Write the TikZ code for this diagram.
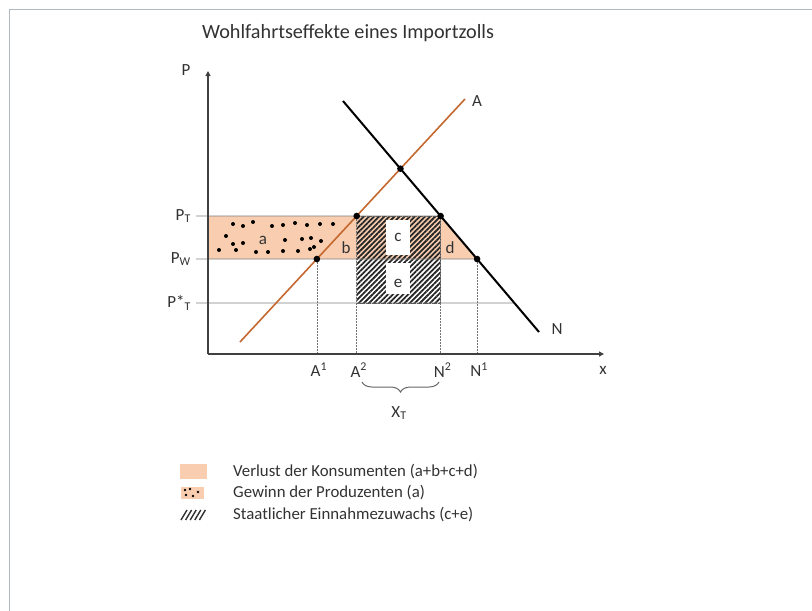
\documentclass[tikz,border=0pt]{standalone}
\usepackage{fontspec}
\setmainfont{Carlito}
\usetikzlibrary{patterns.meta,decorations.pathreplacing,arrows.meta,calc}
\definecolor{peach}{RGB}{248,205,176}
\definecolor{supplyc}{RGB}{196,104,48}
\definecolor{framec}{RGB}{176,184,192}
\definecolor{txt}{RGB}{50,50,50}
\tikzset{
  axisline/.style={draw=black!75,line width=1.3pt},
  priceline/.style={draw=black!50,line width=0.9pt},
  guide/.style={draw=black!55,line width=0.6pt,dash pattern=on 1.5pt off 1.5pt},
  hatch/.style={pattern={Lines[angle=45,distance=3.6pt,line width=1.8pt]},pattern color=black!85},
  lbl/.style={font=\fontsize{17}{19}\selectfont,text=txt,inner sep=1pt},
  legtext/.style={font=\fontsize{16.8}{19}\selectfont,text=txt,anchor=west,inner sep=0pt},
}
\begin{document}
\begin{tikzpicture}[x=1pt,y=-1pt]
\useasboundingbox (0,0) rectangle (812,611);
% frame
\draw[framec,line width=1.5pt] (9.5,611) -- (9.5,9.5) -- (812,9.5);
% title
\node[font=\fontsize{20.2}{23}\selectfont,text=txt,anchor=west,inner sep=0pt] (title) at (202,33) {Wohlfahrtseffekte eines Importzolls};
% key coordinates
\coordinate (O) at (208,354);
\coordinate (Ptop) at (208,71);
\coordinate (Xend) at (604,354);
\coordinate (S1) at (240,342);
\coordinate (S2) at (465,99);
\coordinate (D1) at (343,101);
\coordinate (D2) at (539,332);
\coordinate (PTl) at (196,216);
\coordinate (PWl) at (196,259);
\coordinate (PSl) at (196,303);
\coordinate (PTr) at (700,216);
\coordinate (PWr) at (700,259);
\coordinate (PSr) at (700,303);
\coordinate (A1) at (intersection of S1--S2 and PWl--PWr);
\coordinate (A2) at (intersection of S1--S2 and PTl--PTr);
\coordinate (N2) at (intersection of D1--D2 and PTl--PTr);
\coordinate (N1) at (intersection of D1--D2 and PWl--PWr);
\coordinate (NS) at (intersection of D1--D2 and PSl--PSr);
\coordinate (E) at (intersection of S1--S2 and D1--D2);
% consumer loss area
\fill[peach] (208,216) -- (N2) -- (N1) -- (208,259) -- cycle;
% hatched area
\path[hatch] (A2) rectangle (N2 |- PSl);
\draw[black!70,line width=0.6pt,dash pattern=on 2pt off 1pt] (A2) rectangle (N2 |- PSl);
\fill[white] (386,220) rectangle (410,255);
\fill[white] (386,263) rectangle (410,294);
% producer gain dots
\foreach \p in {(233,224),(243,226),(253,222),(272,226),(283,225),(295,223),(307,225),(320,224),(333,224),
  (226,236),(233,244),(243,243),(285,240),(302,239),(311,238),(321,241),
  (219,250),(236,250),(256,252),(268,252),(283,251),(298,251),(310,249),(314,247)}
  \fill \p circle (2);
% price lines
\draw[priceline] (PTl) -- (N2);
\draw[priceline] (PWl) -- (N1);
\draw[priceline] (PSl) -- (NS);
% guides
\draw[guide] (A1) -- (A1 |- O);
\draw[guide] (A2) -- (A2 |- O);
\draw[guide] (N2) -- (N2 |- O);
\draw[guide] (N1) -- (N1 |- O);
% supply and demand
\draw[supplyc,line width=1.6pt] (S1) -- (S2);
\draw[black,line width=2pt] (D1) -- (D2);
% axes
\draw[axisline,-{Triangle[width=5pt,length=5pt]}] (O) -- (Ptop);
\draw[axisline,-{Triangle[width=5pt,length=5pt]}] (O) -- (Xend);
% points
\foreach \q in {A1,A2,N1,N2,E} \fill (\q) circle (3.3);
% labels
\node[lbl] (lP) at (186,70) {P};
\node[lbl] (lx) at (603,370) {x};
\node[lbl] (lA) at (477,101) {A};
\node[lbl] (lN) at (557,329) {N};
\node[lbl,anchor=east] (lPT) at (192,216) {P\textsubscript{T}};
\node[lbl,anchor=east] (lPW) at (192,259) {P\textsubscript{W}};
\node[lbl,anchor=east] (lPS) at (192,303) {P*\textsubscript{T}};
\node[lbl] (la) at (263,240) {a};
\node[lbl] (lb) at (346,248) {b};
\node[lbl] (lc) at (398,237) {c};
\node[lbl] (ld) at (450,248) {d};
\node[lbl] (le) at (398,283) {e};
\node[lbl] (tA1) at ($(A1 |- O)+(2,16)$) {A\textsuperscript{1}};
\node[lbl] (tA2) at ($(A2 |- O)+(2,16)$) {A\textsuperscript{2}};
\node[lbl] (tN2) at ($(N2 |- O)+(2,16)$) {N\textsuperscript{2}};
\node[lbl] (tN1) at ($(N1 |- O)+(2,16)$) {N\textsuperscript{1}};
\draw[black!60,line width=1pt,decorate,decoration={brace,amplitude=10pt}] (439,382) -- (362,382);
\node[lbl] (lXT) at (399,413) {X\textsubscript{T}};
% legend
\fill[peach] (180,464) rectangle (207,479);
\node[legtext] (leg1) at (233,472) {Verlust der Konsumenten (a+b+c+d)};
\fill[peach] (181,487) rectangle (204,499);
\foreach \p in {(185,490),(190,489),(186,495),(193,496),(198,492)} \fill \p circle (1.4);
\node[legtext] (leg2) at (233,493) {Gewinn der Produzenten (a)};
\foreach \i in {0,1,2,3,4} \draw[black!80,line width=1.4pt] ($(181,520)+(\i*4.6,0)$) -- ++(6,-10);
\node[legtext] (leg3) at (233,515) {Staatlicher Einnahmezuwachs (c+e)};
\end{tikzpicture}
\end{document}
